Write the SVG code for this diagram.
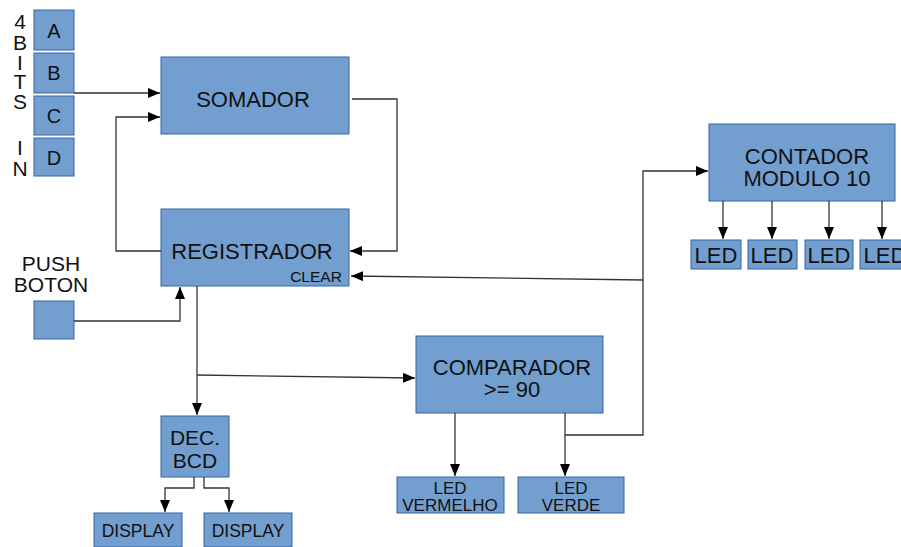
<svg xmlns="http://www.w3.org/2000/svg" width="901" height="547" viewBox="0 0 901 547">
<defs>
<marker id="ah" markerWidth="12" markerHeight="10" refX="12" refY="5" orient="auto" markerUnits="userSpaceOnUse">
<path d="M0,0 L12,5 L0,10 Z" fill="#000"/>
</marker>
<style>
.b{fill:#729fcf;stroke:#3465a4;stroke-width:1}
.t{font-family:"Liberation Sans",Arial,sans-serif;fill:#111;text-anchor:middle}
.c{fill:none;stroke:#333;stroke-width:1.3}
.a{marker-end:url(#ah)}
</style>
</defs>
<rect width="901" height="547" fill="#fff"/>
<g id="label4bits" class="t" font-size="21">
<text x="20" y="29">4</text>
<text x="20" y="50">B</text>
<text x="20" y="70">I</text>
<text x="20" y="89">T</text>
<text x="20" y="109">S</text>
<text x="20" y="155">I</text>
<text x="20" y="176">N</text>
</g>
<g id="inA"><rect class="b" x="34" y="10" width="40" height="40"/><text class="t" x="54" y="38" font-size="20">A</text></g>
<g id="inB"><rect class="b" x="34" y="53" width="40" height="40"/><text class="t" x="54" y="80" font-size="20">B</text></g>
<g id="inC"><rect class="b" x="34" y="96" width="40" height="39"/><text class="t" x="54" y="123" font-size="20">C</text></g>
<g id="inD"><rect class="b" x="34" y="138" width="40" height="38"/><text class="t" x="54" y="165" font-size="20">D</text></g>
<g id="somador"><rect class="b" x="161" y="57" width="188" height="77"/><text class="t" x="253" y="107" font-size="22">SOMADOR</text></g>
<g id="registrador"><rect class="b" x="161" y="209" width="188" height="77"/><text class="t" x="252" y="259" font-size="22">REGISTRADOR</text><text class="t" x="316" y="282" font-size="15.5">CLEAR</text></g>
<g id="push"><text class="t" x="51" y="271" font-size="21">PUSH</text><text class="t" x="51" y="292" font-size="21">BOTON</text><rect class="b" x="34" y="301" width="40" height="38"/></g>
<g id="decbcd"><rect class="b" x="161" y="416" width="68" height="61"/><text class="t" x="195" y="445" font-size="21">DEC.</text><text class="t" x="195" y="468" font-size="21">BCD</text></g>
<g id="display1"><rect class="b" x="94" y="513" width="88" height="34"/><text class="t" x="138" y="537" font-size="17.5">DISPLAY</text></g>
<g id="display2"><rect class="b" x="204" y="513" width="88" height="34"/><text class="t" x="248" y="537" font-size="17.5">DISPLAY</text></g>
<g id="comparador"><rect class="b" x="416" y="336" width="187" height="77"/><text class="t" x="512" y="375" font-size="22">COMPARADOR</text><text class="t" x="512" y="397" font-size="22">&gt;= 90</text></g>
<g id="ledvermelho"><rect class="b" x="397" y="477" width="107" height="36"/><text class="t" x="450" y="494" font-size="17">LED</text><text class="t" x="450" y="511" font-size="17">VERMELHO</text></g>
<g id="ledverde"><rect class="b" x="518" y="477" width="106" height="36"/><text class="t" x="571" y="494" font-size="17">LED</text><text class="t" x="571" y="511" font-size="17">VERDE</text></g>
<g id="contador"><rect class="b" x="709" y="124" width="186" height="77"/><text class="t" x="807" y="164" font-size="22">CONTADOR</text><text class="t" x="807" y="186" font-size="22">MODULO 10</text></g>
<g id="led1"><rect class="b" x="691" y="240" width="50" height="29"/><text class="t" x="716" y="263" font-size="22">LED</text></g>
<g id="led2"><rect class="b" x="748" y="240" width="49" height="29"/><text class="t" x="772" y="263" font-size="22">LED</text></g>
<g id="led3"><rect class="b" x="805" y="240" width="48" height="29"/><text class="t" x="829" y="263" font-size="22">LED</text></g>
<g id="led4"><rect class="b" x="860" y="240" width="50" height="29"/><text class="t" x="885" y="263" font-size="22">LED</text></g>
<g id="connectors">
<path class="c a" d="M74,93 H160"/>
<path class="c a" d="M161,251 H116 V117 H160"/>
<path class="c a" d="M352,99 H397 V251 H350"/>
<path class="c a" d="M643,280 L351,276"/>
<path class="c a" d="M74,321 H180 V287"/>
<path class="c a" d="M197,286 V415"/>
<path class="c a" d="M197,375 L415,378"/>
<path class="c a" d="M194,477 V488 H165 V512"/>
<path class="c a" d="M204,477 V488 H229 V512"/>
<path class="c a" d="M455,413 V476"/>
<path class="c a" d="M565,413 V476"/>
<path class="c a" d="M565,435 H643 V171 H708"/>
<path class="c a" d="M723,201 V239"/>
<path class="c a" d="M772,201 V239"/>
<path class="c a" d="M829,201 V239"/>
<path class="c a" d="M882,201 V239"/>
</g>
</svg>
